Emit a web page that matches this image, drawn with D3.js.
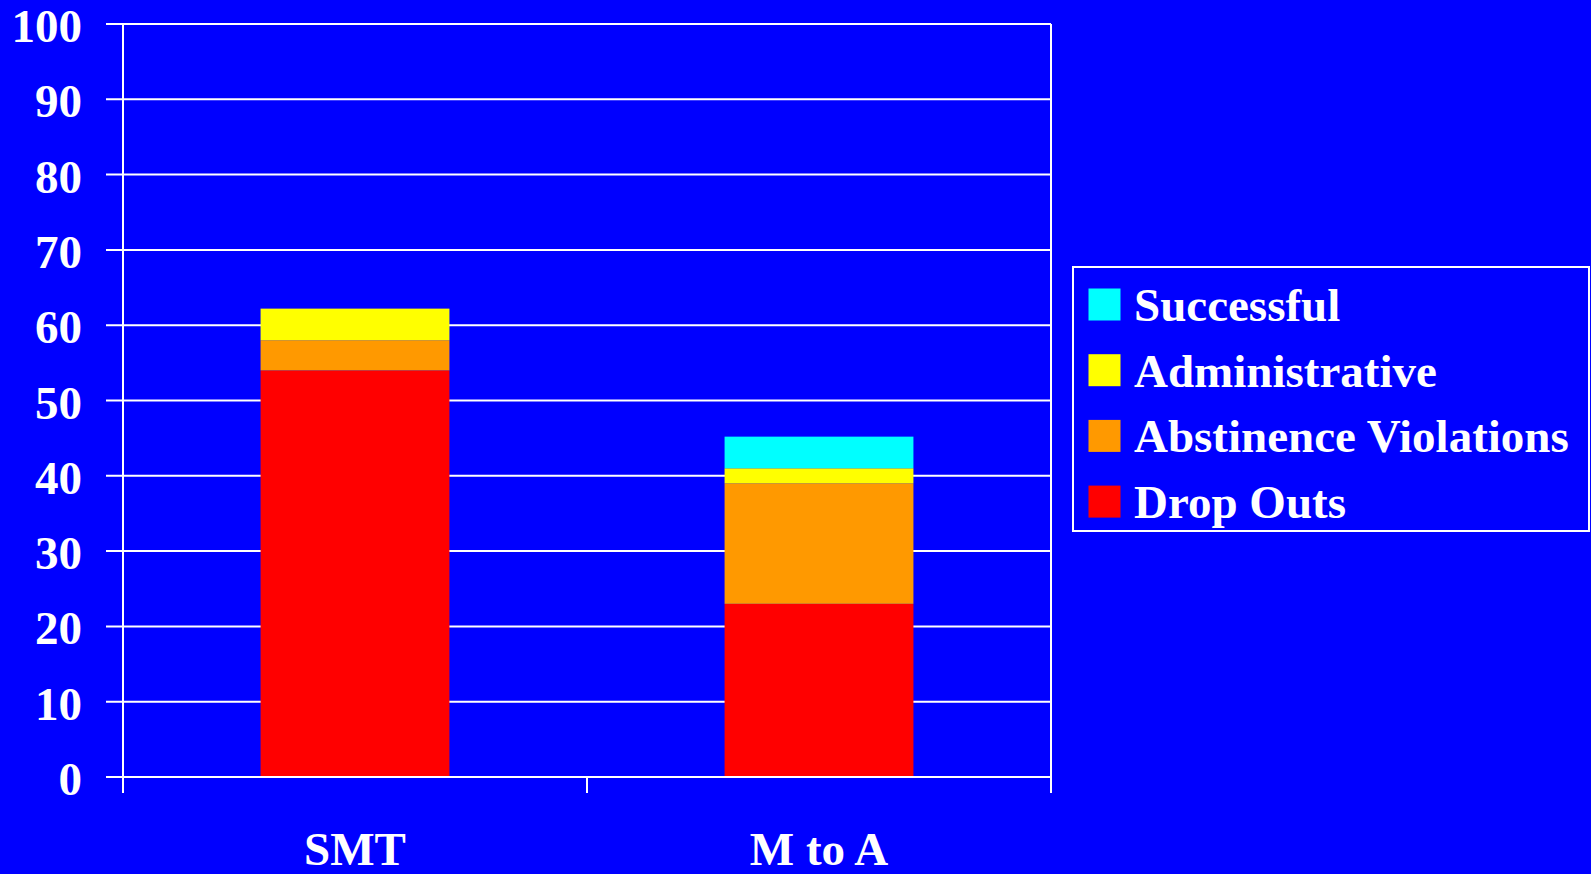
<!DOCTYPE html>
<html>
<head>
<meta charset="utf-8">
<script src="https://cdn.jsdelivr.net/npm/d3@7/dist/d3.min.js"></script>
<style>
  html, body { margin: 0; padding: 0; background: #0000FF; overflow: hidden; }
  svg { display: block; }
  text { font-family: "Liberation Serif", "Times New Roman", serif; font-weight: bold; fill: #FFFFFF; }
</style>
</head>
<body>
<svg id="chart" width="1591" height="874"></svg>
<script>
// Program groups on the x axis
const categories = ["SMT", "M to A"];
// Outcome series, stacked bottom to top
const seriesNames = ["Drop Outs", "Abstinence Violations", "Administrative", "Successful"];
const dropOuts = [54, 23];
const abstinenceViolations = [4, 16];
const administrative = [4.2, 2];
const successful = [0, 4.2];
const seriesColors = ["#FF0000", "#FF9900", "#FFFF00", "#00FFFF"];
const yTicks = [0, 10, 20, 30, 40, 50, 60, 70, 80, 90, 100];

const rows = categories.map((c, i) => ({
  category: c,
  "Drop Outs": dropOuts[i],
  "Abstinence Violations": abstinenceViolations[i],
  "Administrative": administrative[i],
  "Successful": successful[i]
}));

const svg = d3.select("#chart");
const plot = { left: 123, right: 1051, top: 24, bottom: 777 };
const fontSize = 47;

const x = d3.scaleBand()
  .domain(categories)
  .range([plot.left, plot.right])
  .paddingInner(0.593)
  .paddingOuter(0.2965);

const y = d3.scaleLinear().domain([0, 100]).range([plot.bottom, plot.top]);
const color = d3.scaleOrdinal().domain(seriesNames).range(seriesColors);

// Horizontal gridlines, extending left of the axis as tick marks
svg.append("g")
  .selectAll("line")
  .data(yTicks)
  .join("line")
  .attr("x1", plot.left - 17)
  .attr("x2", plot.right)
  .attr("y1", d => y(d))
  .attr("y2", d => y(d))
  .attr("stroke", "#FFFFFF")
  .attr("stroke-width", 2);

// Plot frame: left and right edges
svg.append("line")
  .attr("x1", plot.left).attr("x2", plot.left)
  .attr("y1", plot.top).attr("y2", plot.bottom + 16)
  .attr("stroke", "#FFFFFF").attr("stroke-width", 2);
svg.append("line")
  .attr("x1", plot.right).attr("x2", plot.right)
  .attr("y1", plot.top).attr("y2", plot.bottom + 16)
  .attr("stroke", "#FFFFFF").attr("stroke-width", 2);

// Category divider tick between groups
const step = x.step();
svg.append("line")
  .attr("x1", plot.left + step).attr("x2", plot.left + step)
  .attr("y1", plot.bottom).attr("y2", plot.bottom + 16)
  .attr("stroke", "#FFFFFF").attr("stroke-width", 2);

// Stacked bars
const stack = d3.stack().keys(seriesNames)(rows);
svg.append("g")
  .selectAll("g")
  .data(stack)
  .join("g")
  .attr("fill", d => color(d.key))
  .selectAll("rect")
  .data(d => d.filter(s => s[1] - s[0] > 0))
  .join("rect")
  .attr("x", d => x(d.data.category))
  .attr("width", x.bandwidth())
  .attr("y", d => y(d[1]))
  .attr("height", d => y(d[0]) - y(d[1]));

// Zero baseline drawn over the bars
svg.append("line")
  .attr("x1", plot.left - 17).attr("x2", plot.right)
  .attr("y1", y(0)).attr("y2", y(0))
  .attr("stroke", "#FFFFFF").attr("stroke-width", 2);

// Y tick labels
svg.append("g")
  .selectAll("text")
  .data(yTicks)
  .join("text")
  .attr("x", 82)
  .attr("y", d => y(d) + 18)
  .attr("text-anchor", "end")
  .attr("font-size", fontSize)
  .text(d => d);

// X category labels
svg.append("g")
  .selectAll("text")
  .data(categories)
  .join("text")
  .attr("x", d => x(d) + x.bandwidth() / 2)
  .attr("y", 865)
  .attr("text-anchor", "middle")
  .attr("font-size", fontSize)
  .text(d => d);

// Legend, top entry is the top of the stack
const legend = svg.append("g");
legend.append("rect")
  .attr("x", 1073).attr("y", 267)
  .attr("width", 516).attr("height", 264)
  .attr("fill", "none")
  .attr("stroke", "#FFFFFF").attr("stroke-width", 2);

const legendOrder = seriesNames.slice().reverse();
const entry = legend.selectAll("g.entry")
  .data(legendOrder)
  .join("g")
  .attr("class", "entry")
  .attr("transform", (d, i) => `translate(0, ${i * 65.7})`);

entry.append("rect")
  .attr("x", 1088.5).attr("y", 288.5)
  .attr("width", 32).attr("height", 32)
  .attr("fill", d => color(d));

entry.append("text")
  .attr("x", 1134).attr("y", 321)
  .attr("font-size", fontSize)
  .text(d => d);
</script>
</body>
</html>
